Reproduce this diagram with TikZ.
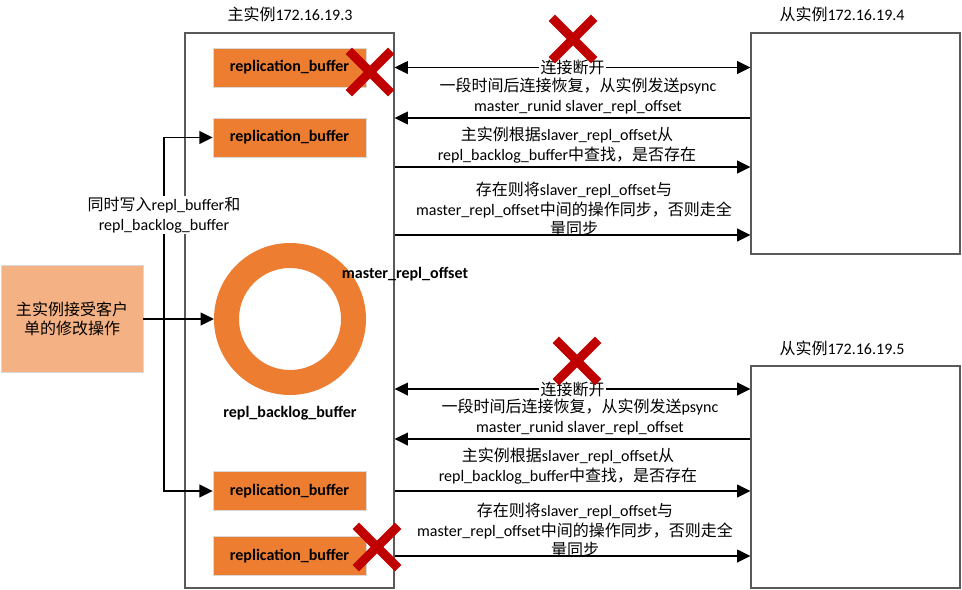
\documentclass[tikz,border=0pt,12pt]{standalone}
\usepackage{fontspec}
\setmainfont{Carlito}
\newfontfamily\cjk{Noto Sans CJK SC}
\linespread{1.02}
\usetikzlibrary{arrows.meta, shapes.misc, positioning}
\definecolor{bufferorange}{HTML}{ED7D31}
\definecolor{clientorange}{HTML}{F4B183}
\definecolor{crossred}{HTML}{C00000}

\begin{document}
\begin{tikzpicture}[
    x=0.75pt, y=-0.75pt,
    box/.style={rectangle, draw=black!65, line width=0.9pt},
    buffer/.style={rectangle, fill=bufferorange, draw=black!15, minimum width=114.75pt, minimum height=29.25pt, font=\bfseries},
    arrow/.style={-{Triangle[length=10pt,width=9.5pt]}, line width=1.4pt},
    twoway/.style={{Triangle[length=10pt,width=9.5pt]}-{Triangle[length=10pt,width=9.5pt]}, line width=1.4pt},
    msg/.style={align=center},
    xmark/.style={cross out, draw=crossred, line width=6.8pt, minimum size=25pt, inner sep=0pt}
  ]
  \useasboundingbox (0,0) rectangle (962,589);

  % ---- Master ----
  \node[box, minimum width=156.75pt, minimum height=416.25pt] (master) at (289.5,310.5) {};
  \node at (290,14) {{\cjk 主实例}172.16.19.3};
  \node[buffer] (rb1) at (289.5,67.5) {replication\_buffer};
  \node[buffer] (rb2) at (289.5,137.5) {replication\_buffer};
  \node[buffer] (rb3) at (289.5,491) {replication\_buffer};
  \node[buffer] (rb4) at (289.5,556) {replication\_buffer};
  \node[circle, draw=bufferorange, line width=18.75pt, minimum size=95.25pt, inner sep=0pt] (backlog) at (290,319) {};
  \node[font=\bfseries] at (405,274) {master\_repl\_offset};
  \node[font=\bfseries] at (290,413) {repl\_backlog\_buffer};

  % ---- Client ----
  \node[rectangle, fill=clientorange, draw=black!15, minimum width=106.5pt, minimum height=80.25pt, align=center, font=\cjk] (client) at (72,319) {主实例接受客户\\单的修改操作};
  \coordinate (split) at (164,319);
  \draw[arrow] (client.east) -- (backlog.west);
  \draw[arrow] (split) |- (rb2.west);
  \draw[arrow] (split) |- (rb3.west);
  \node[msg, fill=white, inner sep=1pt] at (164,215) {{\cjk 同时写入}repl\_buffer{\cjk 和}\\repl\_backlog\_buffer};

  % ---- Slaves ----
  \node[box, minimum width=156.75pt, minimum height=165.75pt] (s1) at (855.5,143.5) {};
  \node[box, minimum width=156.75pt, minimum height=166.5pt] (s2) at (855.5,477) {};
  \node at (842,14) {{\cjk 从实例}172.16.19.4};
  \node at (842,348) {{\cjk 从实例}172.16.19.5};

  % Master <-> 172.16.19.4
  \draw[twoway] (master.east |- rb1) -- node[fill=white, inner sep=1pt, font=\cjk] {连接断开} (s1.west |- rb1);
  \node[msg] at (578,96) {{\cjk 一段时间后连接恢复，从实例发送}psync\\master\_runid slaver\_repl\_offset};
  \draw[arrow] (s1.west |- 0,118) -- (master.east |- 0,118);
  \node[msg] at (567,145) {{\cjk 主实例根据}slaver\_repl\_offset{\cjk 从}\\repl\_backlog\_buffer{\cjk 中查找，是否存在}};
  \draw[arrow] (master.east |- 0,167) -- (s1.west |- 0,167);
  \node[msg] at (574,209) {{\cjk 存在则将}slaver\_repl\_offset{\cjk 与}\\master\_repl\_offset{\cjk 中间的操作同步，否则走全}\\{\cjk 量同步}};
  \draw[arrow] (master.east |- 0,235) -- (s1.west |- 0,235);
  \node[xmark] (cut1) at (573,39) {};
  \node[xmark] (drop1) at (370,72) {};

  % Master <-> 172.16.19.5
  \draw[twoway] (master.east |- 0,389) -- node[fill=white, inner sep=1pt, font=\cjk] {连接断开} (s2.west |- 0,389);
  \node[msg] at (580,417) {{\cjk 一段时间后连接恢复，从实例发送}psync\\master\_runid slaver\_repl\_offset};
  \draw[arrow] (s2.west |- 0,439) -- (master.east |- 0,439);
  \node[msg] at (568,466) {{\cjk 主实例根据}slaver\_repl\_offset{\cjk 从}\\repl\_backlog\_buffer{\cjk 中查找，是否存在}};
  \draw[arrow] (master.east |- rb3) -- (s2.west |- rb3);
  \node[msg] at (575,530) {{\cjk 存在则将}slaver\_repl\_offset{\cjk 与}\\master\_repl\_offset{\cjk 中间的操作同步，否则走全}\\{\cjk 量同步}};
  \draw[arrow] (master.east |- rb4) -- (s2.west |- rb4);
  \node[xmark] (cut2) at (577,361) {};
  \node[xmark] (drop2) at (377,547) {};
\end{tikzpicture}
\end{document}
